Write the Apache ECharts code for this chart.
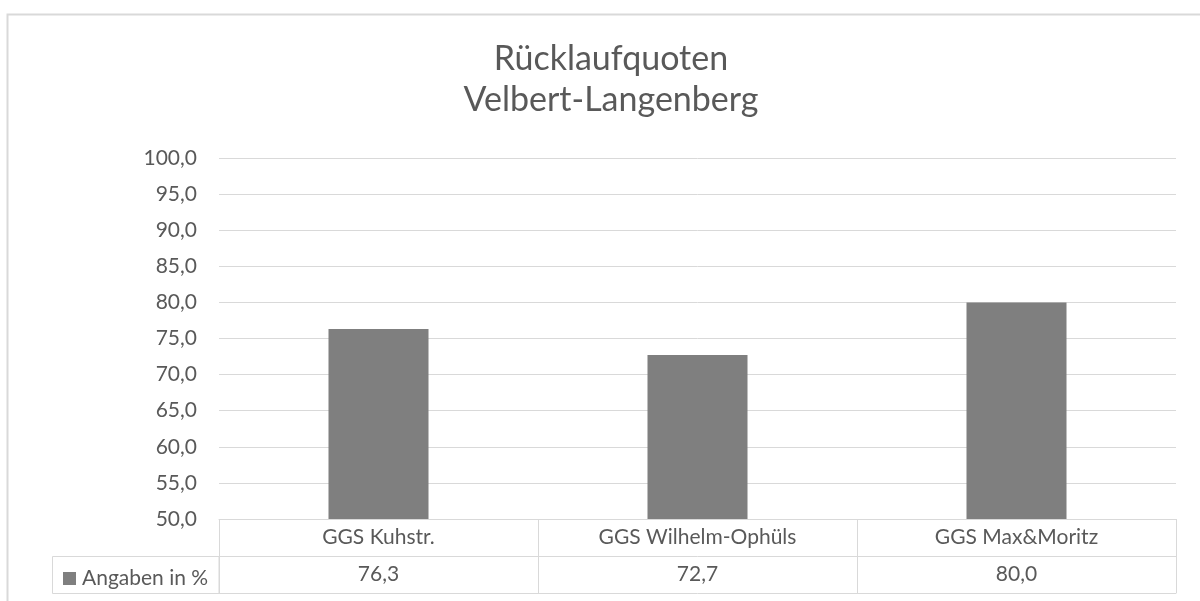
<!DOCTYPE html>
<html>
<head>
<meta charset="utf-8">
<script src="https://cdn.jsdelivr.net/npm/echarts@6/dist/echarts.min.js"></script>
<style>
  html, body { margin: 0; padding: 0; background: #fff; }
  #main { width: 1200px; height: 601px; }
</style>
</head>
<body>
<div id="main"></div>
<script>
var categories = ["GGS Kuhstr.", "GGS Wilhelm-Ophüls", "GGS Max&Moritz"];
var quoten = [76.3, 72.7, 80.0];
var seriesName = "Angaben in %";
var yMin = 50, yMax = 100, yStep = 5;

var textColor = "#595959";
var lineColor = "#d9d9d9";
var fontName = "Lato, 'Liberation Sans', sans-serif";

function deComma(v) {
    return Number(v).toFixed(1).replace(".", ",");
}

var chart = echarts.init(document.getElementById("main"), null, { renderer: "canvas" });

var option = {
    animation: false,
    backgroundColor: "#fff",
    textStyle: { fontFamily: fontName },
    title: {
        text: "Rücklaufquoten\nVelbert-Langenberg",
        left: 606,
        textAlign: "center",
        top: 34,
        textStyle: {
            color: textColor,
            fontSize: 34,
            fontWeight: "normal",
            fontFamily: fontName,
            lineHeight: 41
        }
    },
    legend: {
        data: [seriesName],
        left: 58,
        top: 563,
        itemWidth: 13,
        itemHeight: 13,
        itemGap: 0,
        icon: "rect",
        textStyle: { color: textColor, fontSize: 21, fontFamily: fontName, padding: [0, 0, 0, 1] }
    },
    grid: { left: 219, right: 24, top: 158, bottom: 82 },
    xAxis: [
        {
            type: "category",
            data: categories,
            position: "bottom",
            axisLine: { show: true, lineStyle: { color: lineColor, width: 1 } },
            axisTick: { show: true, length: 74, alignWithLabel: false, lineStyle: { color: lineColor } },
            axisLabel: { color: textColor, fontSize: 21, margin: 8, fontFamily: fontName }
        },
        {
            type: "category",
            data: categories,
            position: "bottom",
            offset: 37,
            axisLine: { show: true, lineStyle: { color: lineColor, width: 1 } },
            axisTick: { show: false },
            axisLabel: {
                color: textColor, fontSize: 21, margin: 8, fontFamily: fontName,
                formatter: function (v, i) { return deComma(quoten[i]); }
            }
        },
        {
            type: "category",
            data: categories,
            position: "bottom",
            offset: 74,
            axisLine: { show: true, lineStyle: { color: lineColor, width: 1 } },
            axisTick: { show: false },
            axisLabel: { show: false }
        }
    ],
    yAxis: {
        type: "value",
        min: yMin,
        max: yMax,
        interval: yStep,
        axisLine: { show: false },
        axisTick: { show: false },
        splitLine: { lineStyle: { color: lineColor, width: 1 } },
        axisLabel: {
            color: textColor, fontSize: 21, margin: 22, fontFamily: fontName,
            formatter: deComma
        }
    },
    series: [{
        name: seriesName,
        type: "bar",
        xAxisIndex: 0,
        data: quoten,
        barWidth: 100,
        itemStyle: { color: "#7f7f7f" }
    }],
    graphic: [
        {
            type: "rect",
            shape: { x: 7.5, y: 14.5, width: 1200, height: 600 },
            style: { fill: null, stroke: lineColor, lineWidth: 2 },
            silent: true
        },
        {
            type: "rect",
            shape: { x: 52.5, y: 556.5, width: 166.5, height: 37 },
            style: { fill: null, stroke: lineColor, lineWidth: 1 },
            silent: true
        }
    ]
};

chart.setOption(option);
</script>
</body>
</html>
